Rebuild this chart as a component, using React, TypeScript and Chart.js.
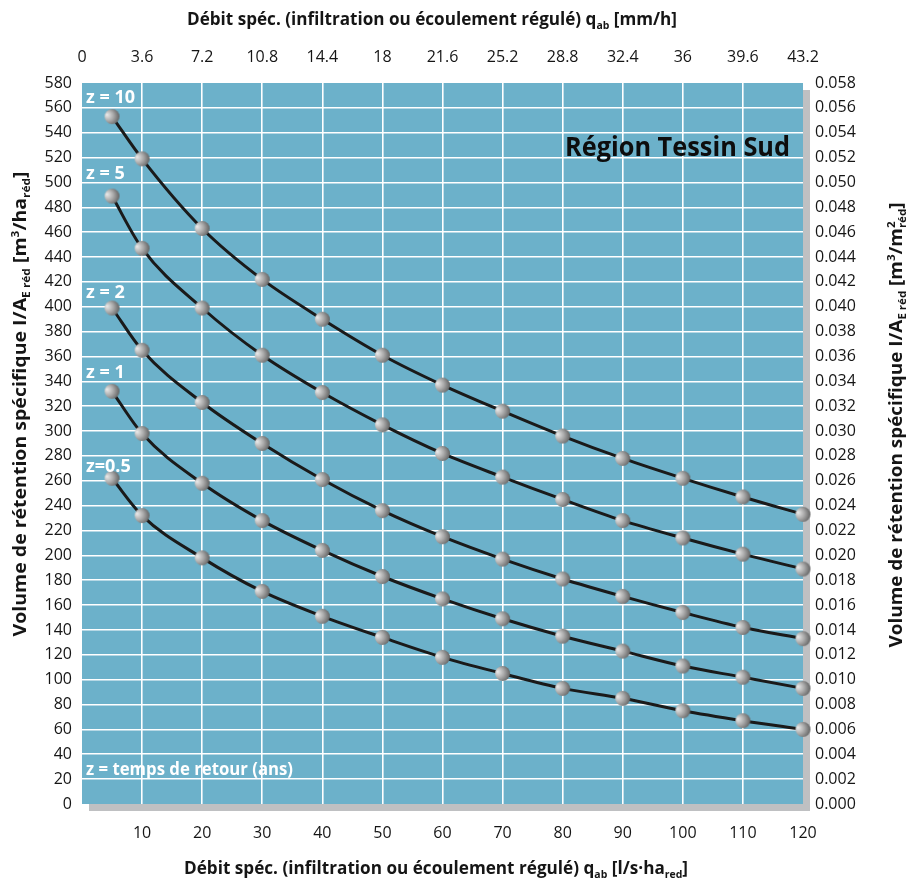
import React, { useEffect, useRef } from 'react';
import { Chart, registerables } from 'chart.js';

Chart.register(...registerables);

// ---------- DATA ----------
const xValues = [5, 10, 20, 30, 40, 50, 60, 70, 80, 90, 100, 110, 120];
const seriesZ10 = [553, 519, 463, 422, 390, 361, 337, 316, 296, 278, 262, 247, 233];
const seriesZ5 = [489, 447, 399, 361, 331, 305, 282, 263, 245, 228, 214, 201, 189];
const seriesZ2 = [399, 365, 323, 290, 261, 236, 215, 197, 181, 167, 154, 142, 133];
const seriesZ1 = [332, 298, 258, 228, 204, 183, 165, 149, 135, 123, 111, 102, 93];
const seriesZ05 = [262, 232, 198, 171, 151, 134, 118, 105, 93, 85, 75, 67, 60];
const seriesNames = ['z = 10', 'z = 5', 'z = 2', 'z = 1', 'z=0.5'];
const topTickLabels = ['0', '3.6', '7.2', '10.8', '14.4', '18', '21.6', '25.2', '28.8', '32.4', '36', '39.6', '43.2'];
const noteText = 'z = temps de retour (ans)';
const regionTitle = 'Région Tessin Sud';

const FONT = '"Open Sans", "Noto Sans", sans-serif';
const TEXT = '#151515';
const BLUE = '#6cb1ca';
const SHADOW = '#bfc0c2';

type Seg = { t: string; k?: 'sub' | 'sup'; stack?: string };

const topTitle: Seg[] = [
  { t: 'Débit spéc. (infiltration ou écoulement régulé) q' },
  { t: 'ab', k: 'sub' },
  { t: ' [mm/h]' },
];
const bottomTitle: Seg[] = [
  { t: 'Débit spéc. (infiltration ou écoulement régulé) q' },
  { t: 'ab', k: 'sub' },
  { t: ' [l/s\u00b7ha' },
  { t: 'red', k: 'sub' },
  { t: ']' },
];
const leftTitle: Seg[] = [
  { t: 'Volume de rétention spécifique I/A' },
  { t: 'E réd', k: 'sub' },
  { t: ' [m' },
  { t: '3', k: 'sup' },
  { t: '/ha' },
  { t: 'réd', k: 'sub' },
  { t: ']' },
];
const rightTitle: Seg[] = [
  { t: 'Volume de rétention spécifique I/A' },
  { t: 'E réd', k: 'sub' },
  { t: ' [m' },
  { t: '3', k: 'sup' },
  { t: '/m' },
  { t: '2', k: 'sup', stack: 'réd' },
  { t: ']' },
];

function drawRich(ctx: CanvasRenderingContext2D, segs: Seg[], cx: number, cy: number, size: number, targetW: number, rot: number) {
  const base = `bold ${size}px ${FONT}`;
  const smallSize = Math.round(size * 0.62);
  const small = `bold ${smallSize}px ${FONT}`;
  const widths = segs.map((s) => {
    ctx.font = s.k ? small : base;
    let w = ctx.measureText(s.t).width;
    if (s.stack) w = Math.max(w, ctx.measureText(s.stack).width);
    return w;
  });
  const total = widths.reduce((a, b) => a + b, 0);
  const sc = targetW / total;
  ctx.save();
  ctx.translate(cx, cy);
  ctx.rotate(rot);
  ctx.scale(sc, 1);
  ctx.fillStyle = TEXT;
  ctx.textBaseline = 'alphabetic';
  ctx.textAlign = 'left';
  let x = -total / 2;
  const baseY = size * 0.36;
  segs.forEach((s, i) => {
    if (!s.k) {
      ctx.font = base;
      ctx.fillText(s.t, x, baseY);
    } else if (s.k === 'sub') {
      ctx.font = small;
      ctx.fillText(s.t, x, baseY + size * 0.22);
    } else {
      ctx.font = small;
      ctx.fillText(s.t, x, baseY - size * 0.4);
      if (s.stack) ctx.fillText(s.stack, x, baseY + size * 0.22);
    }
    x += widths[i];
  });
  ctx.restore();
}

function makeSphere(r: number): HTMLCanvasElement {
  const c = document.createElement('canvas');
  const s = r * 2 + 2;
  c.width = s;
  c.height = s;
  const g = c.getContext('2d')!;
  const cx = s / 2;
  const grad = g.createRadialGradient(cx - r * 0.7, cx - r * 0.25, 0, cx - r * 0.3, cx, r * 1.5);
  grad.addColorStop(0, '#ececec');
  grad.addColorStop(0.45, '#acacac');
  grad.addColorStop(0.85, '#6a6a6a');
  grad.addColorStop(1, '#555555');
  g.fillStyle = grad;
  g.beginPath();
  g.arc(cx, cx, r, 0, Math.PI * 2);
  g.fill();
  return c;
}

export default function App() {
  const ref = useRef<HTMLCanvasElement | null>(null);

  useEffect(() => {
    if (!ref.current) return;
    const sphere = makeSphere(7.5);
    const all = [seriesZ10, seriesZ5, seriesZ2, seriesZ1, seriesZ05];

    const bgPlugin = {
      id: 'bg',
      beforeDraw(chart: any) {
        const { ctx, chartArea: a } = chart;
        ctx.save();
        ctx.fillStyle = SHADOW;
        ctx.fillRect(a.left + 7, a.top + 7, a.right - a.left, a.bottom - a.top);
        ctx.fillStyle = BLUE;
        ctx.fillRect(a.left, a.top, a.right - a.left, a.bottom - a.top);
        ctx.restore();
      },
      afterDraw(chart: any) {
        const { ctx, chartArea: a } = chart;
        ctx.save();
        ctx.fillStyle = '#ffffff';
        ctx.textAlign = 'left';
        ctx.textBaseline = 'alphabetic';
        ctx.font = `bold 18px ${FONT}`;
        const lx = a.left + 4;
        const baselines = [103, 179, 298, 378, 472];
        seriesNames.forEach((n, i) => {
          ctx.fillText(n, lx, baselines[i]);
        });
        const nw = ctx.measureText(noteText).width;
        ctx.save();
        ctx.translate(lx, 775);
        ctx.scale(207 / nw, 1);
        ctx.fillText(noteText, 0, 0);
        ctx.restore();
        ctx.fillStyle = '#0d0d0d';
        ctx.font = `bold 26px ${FONT}`;
        const rw = ctx.measureText(regionTitle).width;
        ctx.save();
        ctx.translate(565, 156);
        ctx.scale(225 / rw, 1);
        ctx.fillText(regionTitle, 0, 0);
        ctx.restore();
        ctx.restore();
        drawRich(ctx, topTitle, 432, 19, 18, 490, 0);
        drawRich(ctx, bottomTitle, 436, 868, 18, 504, 0);
        drawRich(ctx, leftTitle, 20, 404, 18, 465, -Math.PI / 2);
        drawRich(ctx, rightTitle, 896, 425, 18, 445, -Math.PI / 2);
      },
    };

    const gridColor = (ctx: any, max: number) => {
      const v = ctx.tick ? ctx.tick.value : null;
      return v === 0 || v === max ? 'rgba(0,0,0,0)' : '#ffffff';
    };
    const tickFont = { family: FONT, size: 16 };

    const chart = new Chart(ref.current, {
      type: 'line',
      data: {
        datasets: all.map((s, i) => ({
          label: seriesNames[i],
          data: xValues.map((x, j) => ({ x, y: s[j] })),
          borderColor: '#1a1a1a',
          borderWidth: 3,
          cubicInterpolationMode: 'monotone' as const,
          pointStyle: sphere,
          pointRadius: 7.5,
          clip: false as any,
          xAxisID: 'x',
          yAxisID: 'y',
        })),
      },
      options: {
        animation: false,
        responsive: false,
        layout: { padding: 0 },
        plugins: { legend: { display: false }, tooltip: { enabled: false } },
        events: [],
        scales: {
          x: {
            type: 'linear',
            position: 'bottom',
            min: 0,
            max: 120,
            afterFit: (s: any) => { s.height = 82; },
            grid: { color: (c: any) => gridColor(c, 120), lineWidth: 1.6, drawTicks: false },
            border: { display: false },
            ticks: {
              stepSize: 10, autoSkip: false, maxRotation: 0, padding: 20, color: TEXT, font: tickFont,
              callback: (v: any) => (v === 0 ? '' : String(v)),
            },
          },
          x2: {
            type: 'linear',
            position: 'top',
            min: 0,
            max: 120,
            afterFit: (s: any) => { s.height = 83; },
            grid: { display: false, drawTicks: false },
            border: { display: false },
            ticks: {
              stepSize: 10, autoSkip: false, maxRotation: 0, padding: 16, color: TEXT, font: tickFont,
              callback: (v: any) => topTickLabels[Math.round(Number(v) / 10)],
            },
          },
          y: {
            type: 'linear',
            position: 'left',
            min: 0,
            max: 580,
            afterFit: (s: any) => { s.width = 82; },
            grid: { color: (c: any) => gridColor(c, 580), lineWidth: 1.6, drawTicks: false },
            border: { display: false },
            ticks: { stepSize: 20, autoSkip: false, padding: 10, color: TEXT, font: tickFont },
          },
          y2: {
            type: 'linear',
            position: 'right',
            min: 0,
            max: 580,
            afterFit: (s: any) => { s.width = 106; },
            grid: { display: false, drawTicks: false },
            border: { display: false },
            ticks: {
              stepSize: 20, autoSkip: false, padding: 12, color: TEXT, font: tickFont,
              callback: (v: any) => (Number(v) / 10000).toFixed(3),
            },
          },
        },
      } as any,
      plugins: [bgPlugin],
    });
    return () => chart.destroy();
  }, []);

  return (
    <div style={{ position: 'absolute', left: 0, top: 0, width: 909, height: 886, background: '#ffffff' }}>
      <canvas ref={ref} width={909} height={886} />
    </div>
  );
}
